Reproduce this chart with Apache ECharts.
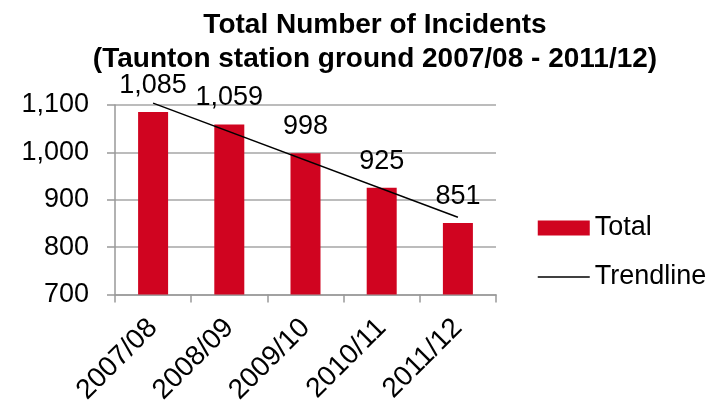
<!DOCTYPE html>
<html>
<head>
<meta charset="utf-8">
<script src="https://cdn.jsdelivr.net/npm/echarts@6/dist/echarts.min.js"></script>
<style>html,body{margin:0;padding:0;background:#fff;}#c{width:720px;height:407px;}</style>
</head>
<body>
<div id="c"></div>
<script>
var categories = ['2007/08', '2008/09', '2009/10', '2010/11', '2011/12'];
var totals = [1085, 1059, 998, 925, 851];
// trendline end points (straight line between first and last category)
var trendline = [1104, null, null, null, 863];
var yMin = 700, yMax = 1100, yStep = 100;

var fmt = function (v) { return Number(v).toLocaleString('en-US'); };
var font = '"Liberation Sans", Arial, sans-serif';

var chart = echarts.init(document.getElementById('c'), null, {renderer: 'canvas'});
chart.setOption({
  animation: false,
  title: {
    text: 'Total Number of Incidents\n(Taunton station ground 2007/08 - 2011/12)',
    left: 370, top: 3, textAlign: 'center',
    textStyle: {fontFamily: font, fontWeight: 'bold', fontSize: 28, lineHeight: 34, color: '#000'}
  },
  legend: {
    orient: 'vertical', left: 537, top: 213, padding: 0,
    itemWidth: 52, itemHeight: 15, itemGap: 19,
    textStyle: {fontFamily: font, fontSize: 27, lineHeight: 30, color: '#000'},
    data: [
      {name: 'Total', icon: 'rect'},
      {name: 'Trendline',
       itemStyle: {color: 'rgba(0,0,0,0)', borderWidth: 0, borderColor: 'rgba(0,0,0,0)'},
       lineStyle: {color: '#000', width: 1.5, opacity: 1}}
    ]
  },
  grid: {left: 115, right: 224, top: 105, bottom: 111, containLabel: false},
  xAxis: {
    type: 'category', data: categories, boundaryGap: true,
    axisLine: {lineStyle: {color: '#999', width: 1.5}},
    axisTick: {show: true, length: 8, alignWithLabel: false, lineStyle: {color: '#999', width: 1.5}},
    axisLabel: {rotate: 45, margin: 29, fontFamily: font, fontSize: 28, color: '#000', interval: 0}
  },
  yAxis: {
    type: 'value', min: yMin, max: yMax, interval: yStep,
    axisLine: {show: true, lineStyle: {color: '#999', width: 1.5}},
    axisTick: {show: true, length: 8, lineStyle: {color: '#999', width: 1.5}},
    splitLine: {show: true, lineStyle: {color: '#a6a6a6', width: 1.5}},
    axisLabel: {margin: 26, fontFamily: font, fontSize: 27, color: '#000', formatter: fmt}
  },
  series: [
    {
      name: 'Total', type: 'bar', data: totals, barWidth: 30,
      itemStyle: {color: '#d00420'},
      label: {show: true, position: 'top', distance: 13, fontFamily: font, fontSize: 27, color: '#000',
              formatter: function (p) { return fmt(p.value); }}
    },
    {
      name: 'Trendline', type: 'line', data: trendline, connectNulls: true, clip: false,
      symbol: 'none', lineStyle: {color: '#000', width: 1.5}, itemStyle: {color: '#000'}, z: 5
    }
  ]
});
</script>
</body>
</html>
